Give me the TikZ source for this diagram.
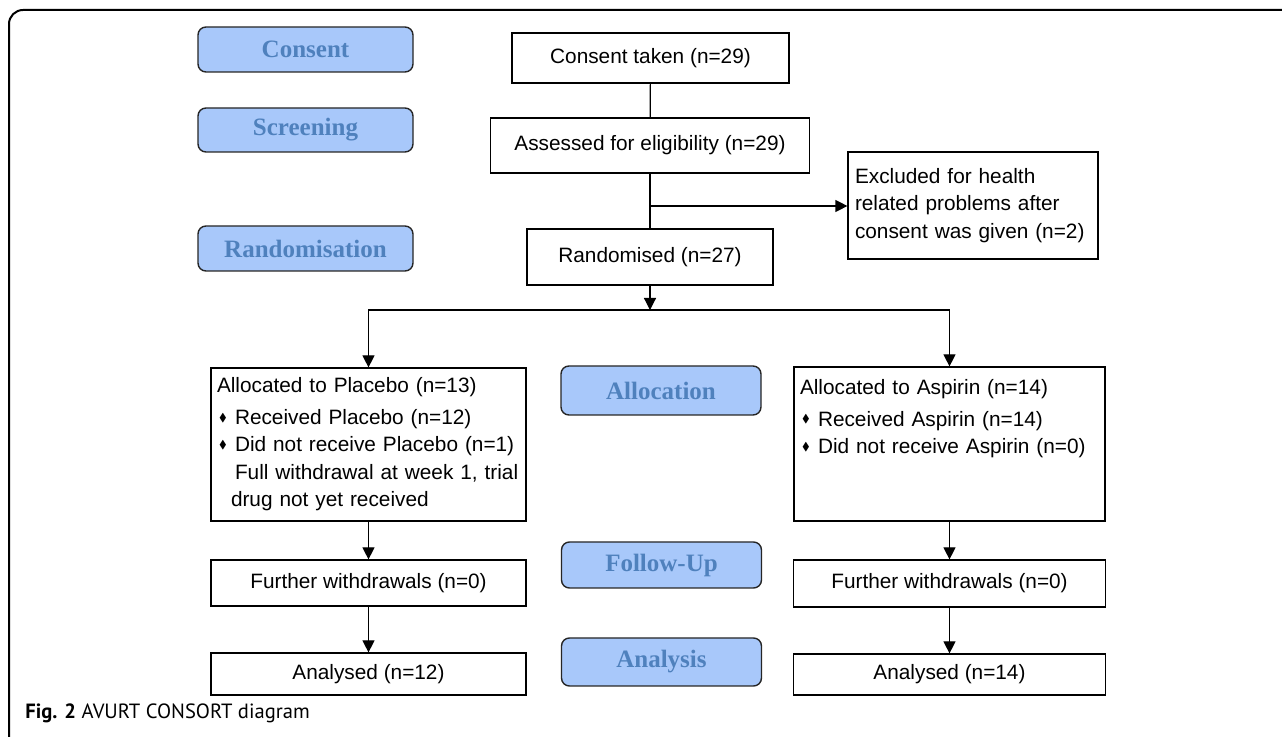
\documentclass[tikz,border=0pt]{standalone}
\usepackage{fontspec}
\usepackage{amssymb}
\setmainfont{Liberation Sans}
\newfontfamily\stagefont{Liberation Serif}
\newfontfamily\capfont{PT Sans}
\usetikzlibrary{arrows.meta}
\definecolor{stagefill}{RGB}{168, 200, 250}
\definecolor{stagetext}{RGB}{79, 129, 189}
\newcommand{\dia}{\makebox[9pt][l]{\hspace{1pt}\raisebox{.3ex}{\scalebox{.55}{$\blacklozenge$}}}}

\begin{document}
\begin{tikzpicture}[x=0.5pt, y=-0.5pt,
  flowbox/.style={draw=black, line width=0.6pt, inner sep=0pt, font=\fontsize{10.4}{13.75}\selectfont},
  listbox/.style={flowbox, align=left, inner xsep=3pt},
  stage/.style={draw=black!85, line width=0.7pt, rounded corners=4pt, fill=stagefill, text=stagetext, inner sep=0pt, font=\stagefont\bfseries\fontsize{12.5}{15}\selectfont},
  link/.style={line width=0.6pt},
  arr/.style={link, -{Triangle[length=6pt, width=6pt]}}]
\useasboundingbox (0,0) rectangle (1282,737);
% frame
\draw [line width=1pt, rounded corners=7pt] (9,737) -- (9,10) -- (1282,10);
% stage labels
\node (sconsent) [stage, minimum width=107.5pt, minimum height=22.5pt] at (305.5, 49.5) {Consent};
\node (sscreen) [stage, minimum width=107.5pt, minimum height=22pt] at (305.5, 130) {Screening};
\node (srandom) [stage, minimum width=107.5pt, minimum height=22.5pt] at (305.5, 248.5) {Randomisation};
\node (salloc) [stage, minimum width=100pt, minimum height=24.5pt] at (661, 390.5) {Allocation};
\node (sfollow) [stage, minimum width=100pt, minimum height=23pt] at (661.5, 565) {Follow-Up};
\node (sanalysis) [stage, minimum width=100pt, minimum height=24pt] at (661.5, 662) {Analysis};
% main flow
\node (consent) [flowbox, minimum width=138.5pt, minimum height=25pt] at (650.5, 58) {Consent taken (n=29)};
\node (assess) [flowbox, minimum width=159.5pt, minimum height=27.5pt] at (650, 145.5) {Assessed for eligibility (n=29)};
\node (random) [flowbox, minimum width=123pt, minimum height=28pt] at (650, 257) {Randomised (n=27)};
\node (exclude) [listbox, text width=118pt, inner xsep=3.5pt, minimum height=53.5pt] at (973, 205.5)
  {Excluded for health\\related problems after\\consent was given (n=2)};
\node (placebo) [listbox, text width=151.5pt, minimum height=76.5pt] at (368.5, 444.5)
  {Allocated to Placebo (n=13)\\[2pt]
   \dia Received Placebo (n=12)\\
   \dia Did not receive Placebo (n=1)\\
   \hspace{9pt}Full withdrawal at week 1, trial\\
   \hspace{7pt}drug not yet received};
\node (aspirin) [listbox, text width=149.5pt, minimum height=77pt] at (949.5, 444)
  {Allocated to Aspirin (n=14)\\[2pt]
   \dia Received Aspirin (n=14)\\
   \dia Did not receive Aspirin (n=0)\\
   \mbox{}\\
   \mbox{}};
\node (furtherp) [flowbox, minimum width=157.5pt, minimum height=23pt] at (368.5, 583) {Further withdrawals (n=0)};
\node (furthera) [flowbox, minimum width=156pt, minimum height=23.5pt] at (949.5, 583.5) {Further withdrawals (n=0)};
\node (analysedp) [flowbox, minimum width=157.5pt, minimum height=21pt] at (368.5, 674) {Analysed (n=12)};
\node (analyseda) [flowbox, minimum width=156pt, minimum height=20.5pt] at (949.5, 674.5) {Analysed (n=14)};
\coordinate (branch) at (650, 206);
\coordinate (split) at (650, 310);
% connectors
\draw [link] (consent) -- (assess);
\draw [link] (assess) -- (random);
\draw [arr] (branch) -- (exclude.west |- branch);
\draw [arr] (random) -- (split);
\draw [arr] (split) -| (placebo.north);
\draw [arr] (split) -| (aspirin.north);
\draw [arr] (placebo) -- (furtherp);
\draw [arr] (furtherp) -- (analysedp);
\draw [arr] (aspirin) -- (furthera);
\draw [arr] (furthera) -- (analyseda);
% caption
\node (caption) [anchor=west, inner sep=0pt, font=\capfont\fontsize{10.3}{12}\selectfont] at (25, 713) {\textbf{Fig. 2} AVURT CONSORT diagram};
\end{tikzpicture}
\end{document}
